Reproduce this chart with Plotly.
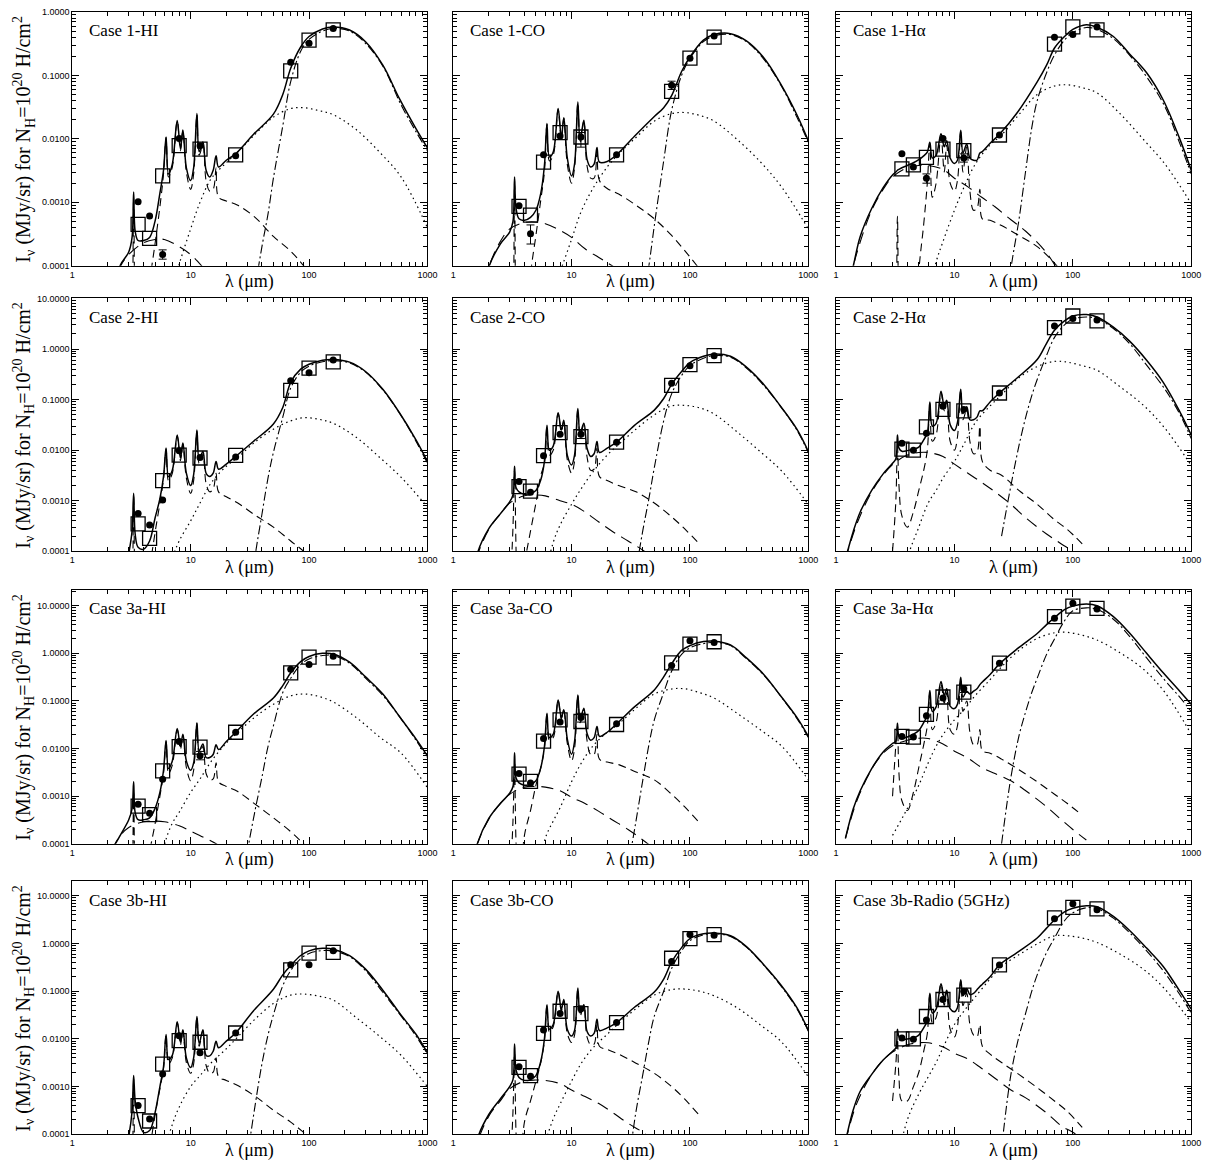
import plotly.graph_objects as go

# ---------------------------------------------------------------- data
BAND_LAM = [3.6, 4.5, 5.8, 8.0, 12.0, 24.0, 70.0, 100.0, 160.0]

TOTAL_LAM = [1.2, 1.4, 1.6, 2.0, 2.5, 3.0, 3.2, 3.3, 3.4, 3.6, 4.0, 4.5, 5.0, 5.5, 5.9,
             6.2, 6.5, 7.0, 7.7, 8.2, 8.6, 9.2, 10.0, 10.6, 11.3, 11.8, 12.7, 13.5, 14.5,
             15.5, 16.4, 17.2, 20.0, 24.0, 34.0, 50.0, 60.0, 70.0, 85.0, 100.0, 130.0,
             160.0, 220.0, 300.0, 420.0, 580.0, 800.0, 1000.0]
VSG_LAM = [3, 4, 5, 6, 7, 8, 10, 12, 15, 20, 25, 35, 50, 70, 90, 120, 160, 250, 400, 600, 1000]
BG_LAM = [25, 30, 35, 40, 45, 50, 60, 70, 85, 100, 130, 160, 220, 300, 420, 600, 800, 1000]
STAR_LAM = [1.2, 1.5, 2, 2.5, 3, 4, 5, 6, 8, 10, 13, 17, 22, 30, 40, 60, 80, 100, 130]
PAH_LAM = [3.0, 3.2, 3.3, 3.4, 3.6, 4.0, 4.5, 5.0, 5.5, 5.9, 6.2, 6.5, 7.0, 7.7, 8.2, 8.6,
           9.2, 10.0, 10.6, 11.3, 11.8, 12.7, 13.5, 14.5, 15.5, 16.4, 17.2, 20, 25, 35, 50,
           70, 90, 120]

NO_ERR = [None, None, None, None, None, None, None, None, None]

# ---- Case 1-HI
C1HI_TOTAL = [1e-6, 1e-6, 1e-6, 1e-5, 9.5e-5, 1.65e-4, 2.8e-4, 1.45e-3, 3.5e-4, 2.5e-4, 2.5e-4, 2.8e-4, 5e-4, 1.4e-3, 3.2e-3,
              1.07e-2, 2.8e-3, 4e-3, 1.95e-2, 7e-3, 1.38e-2, 3.5e-3, 2.2e-3, 3.5e-3, 2.5e-2, 6.3e-3, 8.9e-3, 3.2e-3, 2.5e-3,
              3.2e-3, 5.4e-3, 3.6e-3, 4.6e-3, 5.8e-3, 1.18e-2, 2.45e-2, 5e-2, 0.13, 0.28, 0.41, 0.54,
              0.58, 0.52, 0.34, 0.145, 0.043, 0.0145, 7.2e-3]
C1HI_VSG = [1e-7, 1e-7, 1e-6, 1e-5, 4e-5, 1.05e-4, 3.8e-4, 1e-3, 2.4e-3, 4.2e-3, 6.2e-3, 0.0118, 0.022, 0.030, 0.031, 0.028, 0.024, 0.014, 6e-3, 2.5e-3, 4e-4]
C1HI_BG = [1e-7, 1e-6, 4e-5, 2e-4, 6.5e-4, 2.4e-3, 0.016, 0.08, 0.24, 0.37, 0.5, 0.55, 0.5, 0.32, 0.14, 0.034, 0.013, 6.5e-3]
C1HI_STAR = [1e-7, 1e-6, 2e-5, 9e-5, 1.5e-4, 2.3e-4, 2.6e-4, 2.6e-4, 2e-4, 1.5e-4, 9e-5, 5e-5, 2.5e-5, 1e-5, 4e-6, 1e-6, 5e-7, 2e-7, 1e-7]
C1HI_PAH = [1e-6, 1e-5, 1.2e-3, 1e-5, 1e-6, 1e-6, 5e-5, 2.2e-4, 8.5e-4, 2.8e-3, 0.0105, 2.5e-3, 3.6e-3, 0.019, 6.5e-3, 0.0135,
            3e-3, 1.6e-3, 2.8e-3, 0.024, 5.5e-3, 8e-3, 2.2e-3, 1.5e-3, 1.6e-3, 3.5e-3, 1.2e-3, 1.05e-3, 9e-4, 5.8e-4, 2.9e-4,
            1.7e-4, 1e-4, 5e-5]
C1HI_MODEL = [4.5e-4, 2.7e-4, 2.6e-3, 7.8e-3, 6.9e-3, 5.6e-3, 0.118, 0.36, 0.52]
C1HI_OBS = [1.02e-3, 6.1e-4, 1.5e-4, 0.0101, 7.8e-3, 5.4e-3, 0.161, 0.32, 0.55]
C1HI_ERR_LO = [None, None, 1.27e-4, None, None, None, None, None, None]
C1HI_ERR_HI = [None, None, 1.78e-4, None, None, None, None, None, None]

# ---- Case 1-CO
C1CO_TOTAL = [1e-6, 1e-6, 1e-5, 9.5e-5, 2.2e-4, 3.4e-4, 5e-4, 2.5e-3, 8e-4, 5.5e-4, 5.2e-4, 5.8e-4, 7.5e-4, 1.4e-3, 3.8e-3,
              0.0174, 5.2e-3, 6.2e-3, 0.030, 0.0105, 0.0216, 5e-3, 2.6e-3, 4e-3, 0.038, 9.3e-3, 0.0196, 4.8e-3, 3.6e-3,
              4e-3, 7.3e-3, 4.3e-3, 4.4e-3, 5.6e-3, 0.011, 0.0225, 0.031, 0.048, 0.115, 0.195, 0.36,
              0.44, 0.455, 0.35, 0.19, 0.075, 0.024, 9.3e-3]
C1CO_VSG = [1e-7, 1e-7, 1e-6, 1e-5, 4e-5, 8e-5, 2.6e-4, 7e-4, 1.6e-3, 3.6e-3, 5.8e-3, 0.0105, 0.019, 0.025, 0.026, 0.0235, 0.019, 0.0098, 4.2e-3, 1.7e-3, 3.8e-4]
C1CO_BG = [1e-7, 1e-6, 5e-6, 2.5e-5, 1e-4, 4.3e-4, 4.5e-3, 0.028, 0.1, 0.185, 0.34, 0.42, 0.44, 0.34, 0.18, 0.065, 0.022, 8.8e-3]
C1CO_STAR = [1e-6, 1e-5, 9.5e-5, 2.4e-4, 3.8e-4, 4.8e-4, 4.9e-4, 4.6e-4, 3.6e-4, 2.8e-4, 1.85e-4, 1.35e-4, 1e-4, 7e-5, 5e-5, 3e-5, 2e-5, 1.5e-5, 1e-5]
C1CO_PAH = [1e-6, 1e-5, 2e-3, 1e-5, 1e-6, 1e-6, 7e-5, 3e-4, 1.1e-3, 3e-3, 0.017, 4.5e-3, 5.5e-3, 0.029, 9.5e-3, 0.021,
            4e-3, 2e-3, 3.5e-3, 0.037, 8.5e-3, 0.019, 3.8e-3, 2.4e-3, 2.4e-3, 6e-3, 2.2e-3, 1.65e-3, 1.35e-3, 9e-4, 5.5e-4,
            3e-4, 1.75e-4, 9e-5]
C1CO_MODEL = [8.6e-4, 6.3e-4, 4.3e-3, 0.0125, 0.0107, 5.6e-3, 0.056, 0.187, 0.40]
C1CO_OBS = [8.8e-4, 3.2e-4, 5.6e-3, 0.0111, 0.0107, 5.6e-3, 0.07, 0.187, 0.417]
C1CO_ERR_LO = [None, 2.2e-4, None, None, 7.4e-3, None, 0.06, None, None]
C1CO_ERR_HI = [None, 4.4e-4, None, None, 0.0126, None, 0.081, None, None]

# ---- Case 1-Halpha
C1HA_TOTAL = [3e-5, 1e-4, 2.9e-4, 8e-4, 1.7e-3, 2.7e-3, 3e-3, 3.2e-3, 3.3e-3, 3.5e-3, 3.8e-3, 4.2e-3, 4.7e-3, 5.4e-3, 6.2e-3,
              8.8e-3, 5e-3, 5.5e-3, 0.012, 7.5e-3, 9.3e-3, 5e-3, 4.1e-3, 4.6e-3, 0.0137, 6e-3, 8.3e-3, 5e-3, 4.6e-3,
              4.6e-3, 6e-3, 6.3e-3, 8.5e-3, 0.0118, 0.026, 0.079, 0.145, 0.27, 0.41, 0.53, 0.63,
              0.575, 0.41, 0.22, 0.11, 0.041, 0.01, 3.2e-3]
C1HA_VSG = [1e-7, 1e-7, 1e-6, 3e-5, 1.15e-4, 2.4e-4, 7.5e-4, 1.7e-3, 4e-3, 8e-3, 0.0115, 0.024, 0.05, 0.068, 0.071, 0.064, 0.053, 0.025, 9.5e-3, 4e-3, 9.5e-4]
C1HA_BG = [5e-6, 9e-5, 5.2e-4, 3.2e-3, 0.015, 0.04, 0.11, 0.21, 0.36, 0.47, 0.57, 0.53, 0.38, 0.21, 0.095, 0.032, 8.5e-3, 2.8e-3]
C1HA_STAR = [3e-5, 1.6e-4, 7.5e-4, 1.6e-3, 2.5e-3, 3.5e-3, 3.8e-3, 3.8e-3, 3.3e-3, 2.4e-3, 1.75e-3, 1.2e-3, 8.5e-4, 5.3e-4, 3.5e-4, 1.6e-4, 7e-5, 4e-5, 2e-5]
C1HA_PAH = [1e-6, 1e-5, 6e-4, 1e-5, 1e-6, 1e-6, 1e-6, 8e-5, 4.5e-4, 2e-3, 8.5e-3, 1.2e-3, 2e-3, 0.011, 3e-3, 8e-3,
            2e-3, 1.5e-3, 2.2e-3, 0.013, 3e-3, 7.5e-3, 1.5e-3, 7.5e-4, 8e-4, 1.6e-3, 5.5e-4, 5.2e-4, 4.3e-4, 3e-4, 2e-4,
            1.1e-4, 6e-5, 2e-5]
C1HA_MODEL = [3.36e-3, 3.9e-3, 5.1e-3, 6.9e-3, 6.5e-3, 0.0115, 0.31, 0.58, 0.52]
C1HA_OBS = [5.8e-3, 3.6e-3, 2.4e-3, 0.0101, 5e-3, 0.0115, 0.40, 0.44, 0.58]
C1HA_ERR_LO = [None, None, 2.0e-3, None, 4.3e-3, None, None, None, None]
C1HA_ERR_HI = [None, None, 2.8e-3, None, 5.8e-3, None, None, None, None]

# ---- Case 2-HI
C2HI_TOTAL = [1e-6, 1e-6, 1e-6, 1e-6, 1e-5, 9e-5, 2.5e-4, 1.4e-3, 2.2e-4, 1.2e-4, 1.1e-4, 1.6e-4, 4.5e-4, 1.1e-3, 3e-3,
              0.011, 3e-3, 4e-3, 0.02, 7e-3, 0.0138, 3.5e-3, 2e-3, 3.3e-3, 0.025, 6.5e-3, 9.4e-3, 3.5e-3, 3e-3,
              3.5e-3, 6e-3, 4.2e-3, 5.3e-3, 7.5e-3, 0.015, 0.033, 0.07, 0.22, 0.4, 0.5, 0.6,
              0.62, 0.55, 0.36, 0.16, 0.055, 0.016, 6e-3]
C2HI_VSG = [1e-7, 1e-7, 1e-6, 1e-5, 7e-5, 1.6e-4, 4e-4, 9e-4, 2.3e-3, 4.8e-3, 7.2e-3, 0.0145, 0.026, 0.038, 0.044, 0.041, 0.034, 0.018, 7e-3, 2.9e-3, 7.5e-4]
C2HI_BG = [1e-7, 5e-6, 8e-5, 5.4e-4, 2.8e-3, 9e-3, 0.045, 0.17, 0.35, 0.46, 0.56, 0.59, 0.53, 0.35, 0.155, 0.048, 0.015, 5.5e-3]
C2HI_STAR = [1e-7, 1e-6, 1e-5, 3e-5, 5.5e-5, 8e-5, 8.5e-5, 8e-5, 6e-5, 4.5e-5, 3e-5, 2e-5, 1e-5, 5e-6, 2e-6, 1e-6, 5e-7, 2e-7, 1e-7]
C2HI_PAH = [1e-6, 1e-5, 1.2e-3, 1e-5, 1e-6, 1e-6, 4e-5, 2.3e-4, 9e-4, 2.7e-3, 0.0105, 2.5e-3, 3.5e-3, 0.019, 6.2e-3, 0.0132,
            2.8e-3, 1.4e-3, 2.5e-3, 0.024, 5.5e-3, 8.5e-3, 2.2e-3, 1.5e-3, 1.7e-3, 3.5e-3, 1.5e-3, 1.2e-3, 9e-4, 5.2e-4, 3e-4,
            1.6e-4, 1e-4, 5e-5]
C2HI_MODEL = [3.5e-4, 1.8e-4, 2.5e-3, 8e-3, 7e-3, 7.9e-3, 0.152, 0.42, 0.56]
C2HI_OBS = [5.6e-4, 3.3e-4, 1.03e-3, 9.7e-3, 7.2e-3, 7.3e-3, 0.236, 0.34, 0.61]

# ---- Case 2-CO
C2CO_TOTAL = [1e-6, 1e-5, 9e-5, 2.8e-4, 5.5e-4, 9.5e-4, 1.3e-3, 4.8e-3, 1.8e-3, 1.5e-3, 1.35e-3, 1.4e-3, 1.6e-3, 2.6e-3, 6e-3,
              0.031, 0.01, 0.012, 0.055, 0.025, 0.039, 8e-3, 5.1e-3, 8e-3, 0.067, 0.0216, 0.034, 0.011, 7.5e-3,
              8.5e-3, 0.0148, 9e-3, 0.011, 0.0144, 0.031, 0.062, 0.105, 0.2, 0.36, 0.54, 0.72,
              0.8, 0.72, 0.44, 0.2, 0.075, 0.026, 9.4e-3]
C2CO_VSG = [1e-7, 1e-7, 1e-6, 3e-5, 1.5e-4, 3.3e-4, 8.5e-4, 1.7e-3, 3.6e-3, 8e-3, 0.013, 0.026, 0.05, 0.075, 0.077, 0.069, 0.052, 0.023, 9e-3, 3.8e-3, 8.5e-4]
C2CO_BG = [1e-7, 3e-6, 4e-5, 2.6e-4, 1.1e-3, 4.5e-3, 0.038, 0.13, 0.3, 0.47, 0.66, 0.74, 0.69, 0.42, 0.19, 0.067, 0.025, 9e-3]
C2CO_STAR = [1e-6, 5e-5, 2.7e-4, 5.5e-4, 9e-4, 1.25e-3, 1.3e-3, 1.25e-3, 1e-3, 8.5e-4, 6e-4, 3.8e-4, 2.5e-4, 1.6e-4, 1.05e-4, 5e-5, 3e-5, 2e-5, 1e-5]
C2CO_PAH = [1e-5, 3e-4, 4e-3, 1e-4, 1e-6, 5e-5, 2.5e-4, 9e-4, 3.2e-3, 5.5e-3, 0.03, 8e-3, 0.01, 0.053, 0.023, 0.037,
            6.5e-3, 3.5e-3, 6e-3, 0.065, 0.019, 0.032, 7.5e-3, 4e-3, 4.2e-3, 0.011, 3e-3, 2.5e-3, 2e-3, 1.5e-3, 9e-4,
            4.8e-4, 2.8e-4, 1.4e-4]
C2CO_MODEL = [1.9e-3, 1.55e-3, 7.8e-3, 0.0222, 0.0186, 0.0144, 0.191, 0.49, 0.74]
C2CO_OBS = [2.4e-3, 1.48e-3, 7.8e-3, 0.0206, 0.0206, 0.0144, 0.21, 0.47, 0.74]
C2CO_ERR_LO = [None, None, None, None, 0.017, None, None, None, None]
C2CO_ERR_HI = [None, None, None, None, 0.025, None, None, None, None]

# ---- Case 2-Halpha
C2HA_TOTAL = [7e-5, 2.5e-4, 6e-4, 1.6e-3, 3.4e-3, 5.5e-3, 6.8e-3, 0.02, 0.011, 9.5e-3, 9.8e-3, 0.0105, 0.0115, 0.016, 0.022,
              0.09, 0.03, 0.034, 0.146, 0.075, 0.097, 0.032, 0.0245, 0.035, 0.16, 0.053, 0.072, 0.04, 0.04,
              0.045, 0.06, 0.06, 0.09, 0.135, 0.27, 0.62, 1.3, 2.35, 3.6, 4.5, 4.8,
              4.3, 2.7, 1.45, 0.6, 0.22, 0.058, 0.02]
C2HA_VSG = [1e-6, 7e-5, 3e-4, 9e-4, 1.6e-3, 2.8e-3, 6e-3, 0.013, 0.035, 0.075, 0.125, 0.27, 0.45, 0.57, 0.55, 0.47, 0.38, 0.18, 0.075, 0.027, 5e-3]
C2HA_BG = [2e-4, 2e-3, 0.012, 0.045, 0.12, 0.25, 0.75, 1.7, 3.0, 3.9, 4.3, 4.0, 2.55, 1.3, 0.48, 0.16, 0.052, 0.017]
C2HA_STAR = [7e-5, 3.5e-4, 1.5e-3, 3.2e-3, 5.2e-3, 8e-3, 9e-3, 9e-3, 7.5e-3, 5.3e-3, 3.5e-3, 2.3e-3, 1.5e-3, 8.5e-4, 4.6e-4, 2.2e-4, 1.4e-4, 1e-4, 6e-5]
C2HA_PAH = [1e-4, 1e-3, 0.012, 2e-3, 5e-4, 3e-4, 6e-4, 1.6e-3, 4e-3, 0.01, 0.085, 0.015, 0.02, 0.14, 0.06, 0.09,
            0.015, 0.01, 0.018, 0.155, 0.04, 0.065, 0.015, 8.5e-3, 9e-3, 0.03, 6e-3, 4e-3, 3.2e-3, 1.6e-3, 8.5e-4,
            4.2e-4, 2.7e-4, 1.4e-4]
C2HA_MODEL = [0.0105, 0.01, 0.029, 0.064, 0.06, 0.135, 2.66, 4.5, 3.6]
C2HA_OBS = [0.0137, 0.01, 0.0216, 0.074, 0.064, 0.135, 2.87, 4.0, 3.76]

# ---- Case 3a-HI
C3AHI_TOTAL = [1e-6, 1e-6, 1e-5, 5e-5, 1.4e-4, 3.2e-4, 5.5e-4, 2e-3, 4.5e-4, 3.2e-4, 3.2e-4, 3.5e-4, 5.5e-4, 1.2e-3, 3.5e-3,
               0.0147, 3.8e-3, 5.5e-3, 0.0265, 0.011, 0.02, 5.5e-3, 3.5e-3, 5e-3, 0.035, 9e-3, 0.0125, 6.5e-3, 6.5e-3,
               7.5e-3, 0.012, 9.5e-3, 0.014, 0.022, 0.053, 0.115, 0.21, 0.39, 0.67, 0.86, 1.0,
               0.97, 0.65, 0.32, 0.14, 0.047, 0.016, 7e-3]
C3AHI_VSG = [1e-7, 1e-7, 1e-6, 9e-5, 2.7e-4, 4.6e-4, 1.2e-3, 2.3e-3, 5.5e-3, 0.013, 0.022, 0.046, 0.085, 0.128, 0.14, 0.125, 0.095, 0.045, 0.017, 8e-3, 1.5e-3]
C3AHI_BG = [1e-6, 6e-5, 5e-4, 2.5e-3, 0.011, 0.03, 0.15, 0.3, 0.58, 0.76, 0.9, 0.9, 0.62, 0.3, 0.13, 0.042, 0.015, 6.5e-3]
C3AHI_STAR = [1e-6, 1e-5, 5e-5, 1.4e-4, 2.2e-4, 2.9e-4, 3e-4, 2.9e-4, 2.4e-4, 1.85e-4, 1.35e-4, 9.5e-5, 6e-5, 3.5e-5, 2e-5, 8e-6, 4e-6, 2e-6, 1e-6]
C3AHI_PAH = [1e-6, 1e-5, 1.2e-3, 1e-5, 1e-6, 1e-6, 6e-5, 2.6e-4, 1e-3, 3e-3, 0.014, 3e-3, 4.5e-3, 0.025, 9.5e-3, 0.019,
             4e-3, 2.1e-3, 3.5e-3, 0.034, 7.5e-3, 0.011, 3e-3, 2.2e-3, 2.3e-3, 5e-3, 2e-3, 1.6e-3, 1.25e-3, 6.8e-4, 3.5e-4,
             1.8e-4, 1e-4, 5e-5]
C3AHI_MODEL = [6.2e-4, 4.1e-4, 3.4e-3, 0.011, 0.0107, 0.022, 0.39, 0.83, 0.8]
C3AHI_OBS = [6.8e-4, 4.4e-4, 2.26e-3, 0.014, 7.1e-3, 0.022, 0.46, 0.58, 0.87]
C3AHI_ERR_LO = [None, None, None, None, 5.8e-3, None, None, None, None]
C3AHI_ERR_HI = [None, None, None, None, 8.7e-3, None, None, None, None]

# ---- Case 3a-CO
C3ACO_TOTAL = [1e-6, 2e-5, 1e-4, 3.4e-4, 7e-4, 1.15e-3, 1.6e-3, 8.2e-3, 2.4e-3, 1.9e-3, 1.7e-3, 1.75e-3, 2.1e-3, 4e-3, 0.011,
               0.055, 0.017, 0.02, 0.105, 0.045, 0.065, 0.016, 7.6e-3, 0.014, 0.133, 0.04, 0.07, 0.021, 0.015,
               0.017, 0.029, 0.018, 0.022, 0.033, 0.075, 0.17, 0.32, 0.6, 1.15, 1.45, 1.76,
               1.8, 1.5, 0.8, 0.36, 0.13, 0.045, 0.018]
C3ACO_VSG = [1e-7, 1e-6, 1e-5, 1.3e-4, 3e-4, 5.7e-4, 2e-3, 4.8e-3, 0.011, 0.022, 0.033, 0.07, 0.14, 0.178, 0.18, 0.15, 0.115, 0.055, 0.024, 0.011, 2.2e-3]
C3ACO_BG = [1e-6, 3e-5, 3e-4, 2.2e-3, 0.012, 0.04, 0.15, 0.42, 0.95, 1.3, 1.6, 1.7, 1.45, 0.77, 0.35, 0.115, 0.043, 0.017]
C3ACO_STAR = [1e-6, 6e-5, 3.3e-4, 7e-4, 1.1e-3, 1.55e-3, 1.6e-3, 1.55e-3, 1.3e-3, 9.5e-4, 7e-4, 4.8e-4, 3.2e-4, 2e-4, 1.2e-4, 5.5e-5, 3e-5, 2e-5, 1e-5]
C3ACO_PAH = [1e-5, 3e-4, 5e-3, 1e-4, 1e-5, 1.5e-4, 5e-4, 1.7e-3, 4e-3, 0.01, 0.053, 0.015, 0.017, 0.1, 0.042, 0.062,
             0.013, 5.5e-3, 0.01, 0.13, 0.035, 0.066, 0.015, 7.5e-3, 7.5e-3, 0.02, 6e-3, 5.2e-3, 4.6e-3, 3.2e-3, 2.2e-3,
             1.1e-3, 6e-4, 2.8e-4]
C3ACO_MODEL = [2.9e-3, 2.05e-3, 0.0143, 0.04, 0.037, 0.032, 0.63, 1.56, 1.75]
C3ACO_OBS = [3e-3, 1.9e-3, 0.0162, 0.036, 0.045, 0.033, 0.555, 1.83, 1.69]
C3ACO_ERR_LO = [None, None, None, None, 0.036, None, None, None, None]
C3ACO_ERR_HI = [None, None, None, None, 0.055, None, None, None, None]

# ---- Case 3a-Halpha
C3AHA_TOTAL = [1.3e-4, 5.5e-4, 1.3e-3, 3.8e-3, 8.5e-3, 0.0128, 0.0143, 0.034, 0.018, 0.0165, 0.0175, 0.02, 0.024, 0.035, 0.05,
               0.166, 0.06, 0.075, 0.255, 0.13, 0.18, 0.078, 0.069, 0.085, 0.314, 0.12, 0.16, 0.14, 0.16,
               0.18, 0.22, 0.25, 0.36, 0.6, 1.25, 2.6, 4.0, 5.6, 8.3, 9.8, 10.8,
               10.0, 5.9, 2.7, 1.0, 0.39, 0.16, 0.085]
C3AHA_VSG = [1.5e-4, 5.5e-4, 1.7e-3, 5e-3, 0.0112, 0.0195, 0.04, 0.065, 0.13, 0.28, 0.52, 1.15, 2.05, 2.7, 2.75, 2.4, 1.9, 1.03, 0.45, 0.15, 0.02]
C3AHA_BG = [1e-4, 2.5e-3, 0.018, 0.06, 0.15, 0.3, 0.95, 2.0, 4.8, 7.8, 9.0, 8.4, 5.2, 2.3, 0.8, 0.27, 0.12, 0.06]
C3AHA_STAR = [1.3e-4, 8e-4, 3.7e-3, 8e-3, 0.0115, 0.015, 0.0165, 0.0163, 0.0125, 8.8e-3, 6.3e-3, 4e-3, 3e-3, 2.1e-3, 1.3e-3, 6e-4, 3.2e-4, 2e-4, 1.2e-4]
C3AHA_PAH = [1e-3, 0.012, 0.03, 3e-3, 8e-4, 5e-4, 1.2e-3, 4e-3, 0.012, 0.03, 0.15, 0.025, 0.035, 0.23, 0.09, 0.15,
             0.025, 0.02, 0.03, 0.28, 0.06, 0.1, 0.022, 0.012, 0.012, 0.025, 9e-3, 8e-3, 6e-3, 3.6e-3, 2e-3,
             1.1e-3, 7e-4, 4e-4]
C3AHA_MODEL = [0.018, 0.0174, 0.052, 0.121, 0.153, 0.62, 5.9, 9.8, 8.8]
C3AHA_OBS = [0.018, 0.0174, 0.049, 0.115, 0.18, 0.62, 5.47, 11.2, 8.5]
C3AHA_ERR_LO = [None, None, None, None, 0.15, None, None, None, None]
C3AHA_ERR_HI = [None, None, None, None, 0.21, None, None, None, None]

# ---- Case 3b-HI
C3BHI_TOTAL = [1e-7, 1e-7, 1e-7, 1e-6, 1e-5, 9e-5, 3e-4, 1.7e-3, 5e-4, 2.2e-4, 1.1e-4, 1.2e-4, 2.8e-4, 1e-3, 2.6e-3,
               0.0123, 3.7e-3, 4.5e-3, 0.023, 8.5e-3, 0.0156, 4e-3, 2.5e-3, 4e-3, 0.0295, 8e-3, 0.0156, 4.5e-3, 4.4e-3,
               5.5e-3, 8.9e-3, 6.5e-3, 9e-3, 0.0133, 0.039, 0.11, 0.22, 0.345, 0.56, 0.7, 0.79,
               0.76, 0.556, 0.29, 0.105, 0.035, 0.0125, 5.1e-3]
C3BHI_VSG = [1e-7, 1e-7, 1e-6, 4e-5, 1.6e-4, 3.7e-4, 1e-3, 1.7e-3, 3.2e-3, 6.2e-3, 0.011, 0.026, 0.055, 0.083, 0.087, 0.079, 0.065, 0.028, 0.011, 4.5e-3, 1e-3]
C3BHI_BG = [1e-6, 3e-5, 4e-4, 3e-3, 0.012, 0.032, 0.13, 0.27, 0.48, 0.62, 0.71, 0.7, 0.53, 0.27, 0.095, 0.03, 0.0115, 4.8e-3]
C3BHI_STAR = [1e-7, 1e-6, 1e-5, 2.5e-5, 4e-5, 6e-5, 7e-5, 6e-5, 5e-5, 4e-5, 2.5e-5, 1.5e-5, 8e-6, 4e-6, 2e-6, 1e-6, 5e-7, 2e-7, 1e-7]
C3BHI_PAH = [1e-6, 1e-5, 1.4e-3, 1e-5, 1e-6, 1e-6, 4e-5, 2.5e-4, 9e-4, 2.4e-3, 0.012, 3e-3, 4e-3, 0.022, 7.5e-3, 0.015,
             3.2e-3, 1.9e-3, 3e-3, 0.029, 7e-3, 0.015, 2.8e-3, 1.9e-3, 2e-3, 4e-3, 1.6e-3, 1.35e-3, 1.05e-3, 6.3e-4, 3.2e-4,
             1.8e-4, 1.1e-4, 6e-5]
C3BHI_MODEL = [4e-4, 1.9e-4, 2.95e-3, 9.2e-3, 8.5e-3, 0.0133, 0.28, 0.63, 0.65]
C3BHI_OBS = [4e-4, 2.1e-4, 1.83e-3, 0.0117, 5.1e-3, 0.0133, 0.36, 0.36, 0.7]

# ---- Case 3b-CO
C3BCO_TOTAL = [1e-6, 1e-5, 8e-5, 2.6e-4, 5.5e-4, 1e-3, 1.4e-3, 7.8e-3, 2.2e-3, 1.55e-3, 1.35e-3, 1.4e-3, 1.7e-3, 3.4e-3, 0.01,
               0.052, 0.016, 0.02, 0.1, 0.041, 0.067, 0.016, 0.0115, 0.015, 0.116, 0.035, 0.052, 0.0145, 0.0115,
               0.013, 0.0257, 0.015, 0.017, 0.022, 0.046, 0.096, 0.18, 0.41, 0.82, 1.27, 1.6,
               1.66, 1.45, 0.86, 0.36, 0.14, 0.045, 0.015]
C3BCO_VSG = [1e-7, 1e-7, 1e-6, 6e-5, 2.1e-4, 4.3e-4, 1.3e-3, 3e-3, 6.3e-3, 0.0125, 0.021, 0.043, 0.083, 0.108, 0.111, 0.1, 0.08, 0.045, 0.019, 8.4e-3, 1.6e-3]
C3BCO_BG = [1e-6, 2e-5, 3e-4, 1.8e-3, 9e-3, 0.03, 0.1, 0.3, 0.7, 1.15, 1.52, 1.6, 1.4, 0.84, 0.35, 0.12, 0.043, 0.0145]
C3BCO_STAR = [1e-6, 4e-5, 2.4e-4, 5e-4, 9e-4, 1.3e-3, 1.37e-3, 1.35e-3, 1.15e-3, 8.5e-4, 6.2e-4, 4.4e-4, 2.9e-4, 1.7e-4, 1.1e-4, 5e-5, 3e-5, 2e-5, 1e-5]
C3BCO_PAH = [1e-5, 3e-4, 5e-3, 1e-4, 1e-5, 1.8e-4, 5e-4, 1.3e-3, 3.2e-3, 9e-3, 0.05, 0.014, 0.018, 0.097, 0.038, 0.063,
             0.013, 8.4e-3, 0.012, 0.112, 0.03, 0.048, 0.011, 7.5e-3, 7.8e-3, 0.02, 7e-3, 6e-3, 4.8e-3, 3.1e-3, 1.9e-3,
             1e-3, 5.5e-4, 2.5e-4]
C3BCO_MODEL = [2.54e-3, 1.7e-3, 0.0131, 0.038, 0.034, 0.022, 0.49, 1.27, 1.54]
C3BCO_OBS = [2.6e-3, 1.65e-3, 0.0154, 0.034, 0.0427, 0.022, 0.42, 1.54, 1.49]

# ---- Case 3b-Radio (5GHz)
C3BRA_TOTAL = [7e-5, 3.3e-4, 8e-4, 1.8e-3, 3.6e-3, 5.5e-3, 6.5e-3, 0.016, 0.011, 9.8e-3, 0.01, 0.0105, 0.012, 0.017, 0.024,
               0.09, 0.035, 0.042, 0.144, 0.07, 0.105, 0.043, 0.037, 0.045, 0.174, 0.08, 0.114, 0.085, 0.09,
               0.107, 0.125, 0.14, 0.2, 0.356, 0.65, 1.3, 2.1, 3.1, 4.6, 5.5, 6.2,
               5.9, 3.7, 1.9, 0.8, 0.33, 0.1, 0.042]
C3BRA_VSG = [1e-5, 2e-4, 7e-4, 1.6e-3, 3.2e-3, 6.5e-3, 0.02, 0.038, 0.076, 0.18, 0.33, 0.58, 0.98, 1.45, 1.45, 1.3, 1.05, 0.6, 0.28, 0.11, 0.022]
C3BRA_BG = [5e-5, 1.8e-3, 0.011, 0.035, 0.1, 0.22, 0.65, 1.3, 3.0, 4.4, 5.6, 5.4, 3.4, 1.7, 0.7, 0.24, 0.085, 0.035]
C3BRA_STAR = [7e-5, 4.5e-4, 1.8e-3, 3.6e-3, 5.3e-3, 7.5e-3, 8.3e-3, 8.3e-3, 6.8e-3, 5e-3, 3.8e-3, 2.4e-3, 1.5e-3, 8.5e-4, 5.8e-4, 2.8e-4, 1.5e-4, 1.1e-4, 7e-5]
C3BRA_PAH = [5e-4, 3e-3, 0.01, 1.5e-3, 5e-4, 5e-4, 1e-3, 2e-3, 5.5e-3, 0.013, 0.085, 0.022, 0.028, 0.14, 0.05, 0.095,
             0.016, 0.011, 0.018, 0.165, 0.05, 0.09, 0.02, 0.012, 0.011, 0.02, 7e-3, 4.8e-3, 3.2e-3, 1.8e-3, 9.5e-4,
             5e-4, 3e-4, 1.4e-4]
C3BRA_MODEL = [0.01, 0.01, 0.0295, 0.067, 0.083, 0.356, 3.45, 5.7, 5.3]
C3BRA_OBS = [0.0105, 0.0098, 0.025, 0.067, 0.1, 0.356, 3.3, 6.8, 5.1]

TITLES = ["Case 1-HI", "Case 1-CO", "Case 1-H\u03b1",
          "Case 2-HI", "Case 2-CO", "Case 2-H\u03b1",
          "Case 3a-HI", "Case 3a-CO", "Case 3a-H\u03b1",
          "Case 3b-HI", "Case 3b-CO", "Case 3b-Radio (5GHz)"]

PANELS = [
    (C1HI_TOTAL, C1HI_VSG, C1HI_BG, C1HI_STAR, C1HI_PAH, C1HI_MODEL, C1HI_OBS, C1HI_ERR_LO, C1HI_ERR_HI),
    (C1CO_TOTAL, C1CO_VSG, C1CO_BG, C1CO_STAR, C1CO_PAH, C1CO_MODEL, C1CO_OBS, C1CO_ERR_LO, C1CO_ERR_HI),
    (C1HA_TOTAL, C1HA_VSG, C1HA_BG, C1HA_STAR, C1HA_PAH, C1HA_MODEL, C1HA_OBS, C1HA_ERR_LO, C1HA_ERR_HI),
    (C2HI_TOTAL, C2HI_VSG, C2HI_BG, C2HI_STAR, C2HI_PAH, C2HI_MODEL, C2HI_OBS, NO_ERR, NO_ERR),
    (C2CO_TOTAL, C2CO_VSG, C2CO_BG, C2CO_STAR, C2CO_PAH, C2CO_MODEL, C2CO_OBS, C2CO_ERR_LO, C2CO_ERR_HI),
    (C2HA_TOTAL, C2HA_VSG, C2HA_BG, C2HA_STAR, C2HA_PAH, C2HA_MODEL, C2HA_OBS, NO_ERR, NO_ERR),
    (C3AHI_TOTAL, C3AHI_VSG, C3AHI_BG, C3AHI_STAR, C3AHI_PAH, C3AHI_MODEL, C3AHI_OBS, C3AHI_ERR_LO, C3AHI_ERR_HI),
    (C3ACO_TOTAL, C3ACO_VSG, C3ACO_BG, C3ACO_STAR, C3ACO_PAH, C3ACO_MODEL, C3ACO_OBS, C3ACO_ERR_LO, C3ACO_ERR_HI),
    (C3AHA_TOTAL, C3AHA_VSG, C3AHA_BG, C3AHA_STAR, C3AHA_PAH, C3AHA_MODEL, C3AHA_OBS, C3AHA_ERR_LO, C3AHA_ERR_HI),
    (C3BHI_TOTAL, C3BHI_VSG, C3BHI_BG, C3BHI_STAR, C3BHI_PAH, C3BHI_MODEL, C3BHI_OBS, NO_ERR, NO_ERR),
    (C3BCO_TOTAL, C3BCO_VSG, C3BCO_BG, C3BCO_STAR, C3BCO_PAH, C3BCO_MODEL, C3BCO_OBS, NO_ERR, NO_ERR),
    (C3BRA_TOTAL, C3BRA_VSG, C3BRA_BG, C3BRA_STAR, C3BRA_PAH, C3BRA_MODEL, C3BRA_OBS, NO_ERR, NO_ERR),
]

X_TICKS = [1, 10, 100, 1000]
X_TICK_TEXT = ["1", "10", "100", "1000"]
Y_TICKS_ROW1 = [0.0001, 0.001, 0.01, 0.1, 1.0]
Y_TICK_TEXT_ROW1 = ["0.0001", "0.0010", "0.0100", "0.1000", "1.0000"]
Y_TICKS = [0.0001, 0.001, 0.01, 0.1, 1.0, 10.0]
Y_TICK_TEXT = ["0.0001", "0.0010", "0.0100", "0.1000", "1.0000", "10.0000"]

# ---------------------------------------------------------------- layout constants
W, H = 1223, 1174
COL_LEFT = [70, 455, 842]
PANEL_W = 359
ROW_TOP = [7, 296, 590, 884]
ROW_BOTTOM = [263, 551, 846, 1139]
ROW_YRANGE = [[-4, 0], [-4, 1], [-4, 1.33], [-4, 1.3]]

SERIF = "Liberation Serif, Times New Roman, serif"
SANS = "Liberation Sans, Arial, sans-serif"

X_MINOR = [m * 10 ** e for e in range(0, 3) for m in range(2, 10)]
Y_MINOR_ROW1 = [m * 10.0 ** e for e in range(-4, 0) for m in range(2, 10)]
Y_MINOR = [m * 10.0 ** e for e in range(-4, 2) for m in range(2, 10)]

DASH_VSG = "1.5px,3.5px"
DASH_BG = "9px,3px,2px,3px"
DASH_STAR = "12px,7px"
DASH_PAH = "8px,5px"

for p in PANELS:
    assert len(p[0]) == len(TOTAL_LAM)
    assert len(p[1]) == len(VSG_LAM)
    assert len(p[2]) == len(BG_LAM)
    assert len(p[3]) == len(STAR_LAM)
    assert len(p[4]) == len(PAH_LAM)
    assert len(p[5]) == len(BAND_LAM) and len(p[6]) == len(BAND_LAM)

fig = go.Figure()
layout = dict(width=W, height=H, margin=dict(l=0, r=0, t=0, b=0),
              paper_bgcolor="white", plot_bgcolor="white", showlegend=False)
annotations = []


def line_trace(x, y, dash, xa, ya, width=1.1):
    return go.Scatter(x=x, y=y, mode="lines", xaxis=xa, yaxis=ya, hoverinfo="skip",
                      line=dict(color="black", width=width, dash=dash, shape="spline", smoothing=1.0))


for i, (tot, vsg, bg, star, pah, model, obs, elo, ehi) in enumerate(PANELS):
    r, c = divmod(i, 3)
    xa = "x" if i == 0 else f"x{i + 1}"
    ya = "y" if i == 0 else f"y{i + 1}"
    left = COL_LEFT[c]
    top, bottom = ROW_TOP[r], ROW_BOTTOM[r]

    fig.add_trace(line_trace(VSG_LAM, vsg, DASH_VSG, xa, ya, width=1.2))
    fig.add_trace(line_trace(BG_LAM, bg, DASH_BG, xa, ya))
    fig.add_trace(line_trace(STAR_LAM, star, DASH_STAR, xa, ya))
    fig.add_trace(line_trace(PAH_LAM, pah, DASH_PAH, xa, ya))
    fig.add_trace(line_trace(TOTAL_LAM, tot, "solid", xa, ya, width=1.5))

    fig.add_trace(go.Scatter(x=BAND_LAM, y=model, mode="markers", xaxis=xa, yaxis=ya, hoverinfo="skip",
                             marker=dict(symbol="square-open", size=14, color="black",
                                         line=dict(color="black", width=1.3))))
    fig.add_trace(go.Scatter(x=BAND_LAM, y=obs, mode="markers", xaxis=xa, yaxis=ya, hoverinfo="skip",
                             marker=dict(symbol="circle", size=7, color="black")))
    idx = [k for k in range(len(BAND_LAM)) if elo[k] is not None]
    if idx:
        fig.add_trace(go.Scatter(
            x=[BAND_LAM[k] for k in idx], y=[obs[k] for k in idx], mode="markers",
            xaxis=xa, yaxis=ya, hoverinfo="skip", marker=dict(size=1, color="rgba(0,0,0,0)"),
            error_y=dict(type="data", symmetric=False,
                         array=[ehi[k] - obs[k] for k in idx],
                         arrayminus=[obs[k] - elo[k] for k in idx],
                         color="black", thickness=1, width=4)))

    xkey = "xaxis" if i == 0 else f"xaxis{i + 1}"
    ykey = "yaxis" if i == 0 else f"yaxis{i + 1}"
    common = dict(showline=True, linecolor="black", linewidth=1, mirror="allticks",
                  ticks="inside", ticklen=7, tickwidth=1, tickcolor="black",
                  showgrid=False, zeroline=False,
                  tickfont=dict(family=SANS, size=9, color="black"))
    layout[xkey] = dict(type="log", range=[0, 3],
                        domain=[left / W, (left + PANEL_W) / W], anchor=ya,
                        tickmode="array", tickvals=X_TICKS, ticktext=X_TICK_TEXT,
                        minor=dict(tickmode="array", tickvals=X_MINOR, ticks="inside", ticklen=4,
                                   tickwidth=1, tickcolor="black", showgrid=False),
                        **common)
    yt = Y_TICKS_ROW1 if r == 0 else Y_TICKS
    ytt = Y_TICK_TEXT_ROW1 if r == 0 else Y_TICK_TEXT
    ym = Y_MINOR_ROW1 if r == 0 else Y_MINOR
    layout[ykey] = dict(type="log", range=ROW_YRANGE[r],
                        domain=[1 - bottom / H, 1 - top / H], anchor=xa,
                        tickmode="array", tickvals=yt, ticktext=ytt,
                        showticklabels=(c == 0),
                        minor=dict(tickmode="array", tickvals=ym, ticks="inside", ticklen=4,
                                   tickwidth=1, tickcolor="black", showgrid=False),
                        **common)

    annotations.append(dict(text=TITLES[i], xref="paper", yref="paper",
                            x=(left + 15) / W, y=1 - (top + 19) / H, xanchor="left", yanchor="middle",
                            showarrow=False, font=dict(family=SERIF, size=17, color="black")))
    annotations.append(dict(text="\u03bb (\u03bcm)", xref="paper", yref="paper",
                            x=(left + PANEL_W / 2) / W, y=1 - (bottom + 16) / H,
                            xanchor="center", yanchor="middle",
                            showarrow=False, font=dict(family=SERIF, size=18, color="black")))
    if c == 0:
        annotations.append(dict(text="I<sub>\u03bd</sub> (MJy/sr) for N<sub>H</sub>=10<sup>20</sup> H/cm<sup>2</sup>",
                                xref="paper", yref="paper", x=21 / W, y=1 - (top + bottom) / 2 / H,
                                xanchor="center", yanchor="middle", textangle=-90,
                                showarrow=False, font=dict(family=SERIF, size=20, color="black")))

layout["annotations"] = annotations
fig.update_layout(**layout)
fig.write_html("out.html")
